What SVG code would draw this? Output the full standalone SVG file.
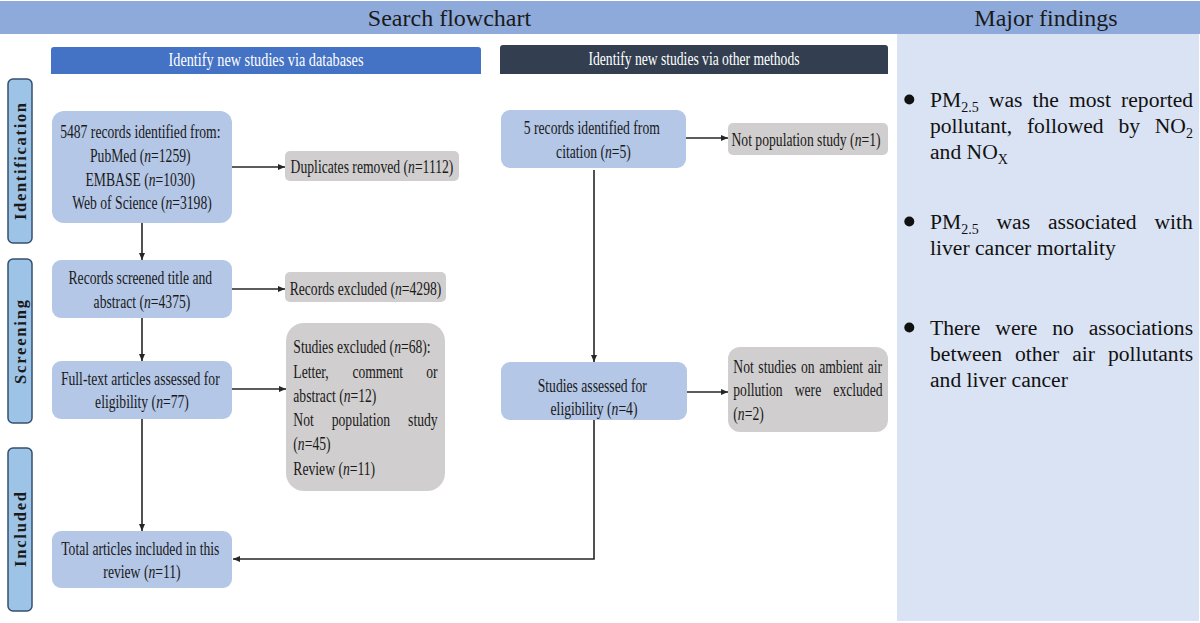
<svg xmlns="http://www.w3.org/2000/svg" width="1200" height="623" viewBox="0 0 1200 623">
<style>
.ft{font-family:"Liberation Serif","Times New Roman",serif;font-size:19.5px;fill:#1a1a1a}
.hd{font-family:"Liberation Serif","Times New Roman",serif;font-size:19.5px;fill:#ffffff}
.ttl{font-family:"Liberation Serif","Times New Roman",serif;font-size:24px;fill:#1a1a1a}
.side{font-family:"Liberation Serif","Times New Roman",serif;font-size:16.5px;font-weight:bold;fill:#1a1a1a}
.mf{font-family:"Liberation Serif","Times New Roman",serif;font-size:21.6px;fill:#111111}
.sb{font-size:14px}
.blue{fill:#b4c7e7}
.gray{fill:#d0cece}
.lab{fill:#9dc3e6;stroke:#34506e;stroke-width:1.5}
.con{stroke:#262626;stroke-width:1.6;fill:none}
</style>
<defs>
<marker id="ah" markerWidth="7" markerHeight="6" refX="7" refY="3" orient="auto" markerUnits="userSpaceOnUse">
<path d="M0,0 L7,3 L0,6 z" fill="#262626"/>
</marker>
</defs>
<rect x="0" y="0" width="1200" height="623" fill="#ffffff"/>
<g id="top-bar">
<rect x="0" y="1" width="1200" height="33" fill="#8eaadb"/>
<text class="ttl" x="449.5" y="26" text-anchor="middle">Search flowchart</text>
<text class="ttl" x="1046" y="26" text-anchor="middle">Major findings</text>
</g>
<g id="findings-panel">
<rect x="897" y="34" width="302" height="587" fill="#dae3f3"/>
<circle cx="909.3" cy="99.5" r="5" fill="#111"/>
<circle cx="909.3" cy="221.5" r="5" fill="#111"/>
<circle cx="909.3" cy="327.5" r="5" fill="#111"/>
<text class="mf" y="107"><tspan x="930">PM</tspan><tspan class="sb" dy="5">2.5</tspan><tspan x="988.8" dy="-5">was</tspan><tspan x="1032.5">the</tspan><tspan x="1069">most</tspan><tspan x="1121.1">reported</tspan></text>
<text class="mf" y="133"><tspan x="930">pollutant,</tspan><tspan x="1026.9">followed</tspan><tspan x="1118.4">by</tspan><tspan x="1154.7">NO</tspan><tspan class="sb" dy="5">2</tspan></text>
<text class="mf" y="159"><tspan x="930">and NO</tspan><tspan class="sb" dy="5">X</tspan></text>
<text class="mf" y="229"><tspan x="930">PM</tspan><tspan class="sb" dy="5">2.5</tspan><tspan x="996.5" dy="-5">was</tspan><tspan x="1047.9">associated</tspan><tspan x="1154.5">with</tspan></text>
<text class="mf" x="930" y="255">liver cancer mortality</text>
<text class="mf" y="335"><tspan x="930">There</tspan><tspan x="995.3">were</tspan><tspan x="1052.2">no</tspan><tspan x="1088.7">associations</tspan></text>
<text class="mf" y="361"><tspan x="930">between</tspan><tspan x="1014.9">other</tspan><tspan x="1072.2">air</tspan><tspan x="1107.9">pollutants</tspan></text>
<text class="mf" x="930" y="387">and liver cancer</text>
</g>
<g id="header-databases">
<path d="M51,74 V50 Q51,47 54,47 H478 Q481,47 481,50 V74 Z" fill="#4472c4"/>
<text class="hd" x="266" y="66" text-anchor="middle" textLength="195" lengthAdjust="spacingAndGlyphs">Identify new studies via databases</text>
</g>
<g id="header-other">
<path d="M500,74 V48 Q500,45 503,45 H885 Q888,45 888,48 V74 Z" fill="#333f50"/>
<text class="hd" x="694" y="65" text-anchor="middle" textLength="211" lengthAdjust="spacingAndGlyphs">Identify new studies via other methods</text>
</g>
<g id="label-identification">
<rect class="lab" x="8" y="79" width="24" height="164" rx="5"/>
<text class="side" transform="translate(25.5,161.5) rotate(-90)" x="0" y="0" text-anchor="middle" textLength="117" lengthAdjust="spacing">Identification</text>
</g>
<g id="label-screening">
<rect class="lab" x="8" y="259" width="24" height="164" rx="5"/>
<text class="side" transform="translate(25.5,342) rotate(-90)" x="0" y="0" text-anchor="middle" textLength="84" lengthAdjust="spacing">Screening</text>
</g>
<g id="label-included">
<rect class="lab" x="8" y="448" width="24" height="163" rx="5"/>
<text class="side" transform="translate(25.5,529.5) rotate(-90)" x="0" y="0" text-anchor="middle" textLength="75" lengthAdjust="spacing">Included</text>
</g>
<g id="connectors">
<line class="con" x1="232" y1="167" x2="285" y2="167" marker-end="url(#ah)"/>
<line class="con" x1="142" y1="223" x2="142" y2="260" marker-end="url(#ah)"/>
<line class="con" x1="232" y1="289" x2="285" y2="289" marker-end="url(#ah)"/>
<line class="con" x1="142" y1="318" x2="142" y2="361" marker-end="url(#ah)"/>
<line class="con" x1="232" y1="389" x2="286" y2="389" marker-end="url(#ah)"/>
<line class="con" x1="142" y1="419" x2="142" y2="531" marker-end="url(#ah)"/>
<line class="con" x1="686" y1="138" x2="728" y2="138" marker-end="url(#ah)"/>
<line class="con" x1="594" y1="170" x2="594" y2="362" marker-end="url(#ah)"/>
<line class="con" x1="687" y1="392" x2="728" y2="392" marker-end="url(#ah)"/>
<polyline class="con" points="594,420 594,559 233,559" marker-end="url(#ah)"/>
</g>
<g id="records-identified">
<rect class="blue" x="52" y="111" width="180" height="112" rx="12"/>
<text class="ft" transform="translate(142,0) scale(0.70,1)" text-anchor="middle">
<tspan x="0" y="138">5487 records identified from:</tspan>
<tspan x="0" y="162">PubMed (<tspan font-style="italic">n</tspan>=1259)</tspan>
<tspan x="0" y="186">EMBASE (<tspan font-style="italic">n</tspan>=1030)</tspan>
<tspan x="0" y="209.5">Web of Science (<tspan font-style="italic">n</tspan>=3198)</tspan>
</text>
</g>
<g id="duplicates-removed">
<rect class="gray" x="285" y="151" width="174" height="30" rx="5"/>
<text class="ft" transform="translate(372,0) scale(0.70,1)" text-anchor="middle" x="0" y="173">Duplicates removed (<tspan font-style="italic">n</tspan>=1112)</text>
</g>
<g id="records-screened">
<rect class="blue" x="52" y="260" width="180" height="58" rx="9"/>
<text class="ft" transform="translate(142,0) scale(0.70,1)" text-anchor="middle">
<tspan x="0" y="284">Records screened title and</tspan>
<tspan x="0" y="308">abstract (<tspan font-style="italic">n</tspan>=4375)</tspan>
</text>
</g>
<g id="records-excluded">
<rect class="gray" x="285" y="272" width="161" height="30" rx="5"/>
<text class="ft" transform="translate(365.5,0) scale(0.70,1)" text-anchor="middle" x="0" y="295">Records excluded (<tspan font-style="italic">n</tspan>=4298)</text>
</g>
<g id="full-text-assessed">
<rect class="blue" x="52" y="361" width="180" height="58" rx="9"/>
<text class="ft" transform="translate(142,0) scale(0.70,1)" text-anchor="middle">
<tspan x="0" y="385">Full-text articles assessed for</tspan>
<tspan x="0" y="408.5">eligibility (<tspan font-style="italic">n</tspan>=77)</tspan>
</text>
</g>
<g id="studies-excluded">
<rect class="gray" x="286" y="323" width="159" height="168" rx="18"/>
<text class="ft" transform="translate(293.3,0) scale(0.70,1)">
<tspan x="0" y="353">Studies excluded (<tspan font-style="italic">n</tspan>=68):</tspan>
<tspan x="0" y="378">Letter,</tspan><tspan x="84.4" y="378">comment</tspan><tspan x="190" y="378">or</tspan>
<tspan x="0" y="402">abstract (<tspan font-style="italic">n</tspan>=12)</tspan>
<tspan x="0" y="426.5">Not</tspan><tspan x="54.9" y="426.5">population</tspan><tspan x="164" y="426.5">study</tspan>
<tspan x="0" y="450.5">(<tspan font-style="italic">n</tspan>=45)</tspan>
<tspan x="0" y="475">Review (<tspan font-style="italic">n</tspan>=11)</tspan>
</text>
</g>
<g id="total-included">
<rect class="blue" x="52" y="531" width="180" height="57" rx="9"/>
<text class="ft" transform="translate(142,0) scale(0.70,1)" text-anchor="middle">
<tspan x="0" y="555">Total articles included in this</tspan>
<tspan x="0" y="578.5">review (<tspan font-style="italic">n</tspan>=11)</tspan>
</text>
</g>
<g id="citation-records">
<rect class="blue" x="501" y="110" width="185" height="58" rx="9"/>
<text class="ft" transform="translate(593.5,0) scale(0.70,1)" text-anchor="middle">
<tspan x="0" y="134">5 records identified from</tspan>
<tspan x="0" y="158">citation (<tspan font-style="italic">n</tspan>=5)</tspan>
</text>
</g>
<g id="not-population">
<rect class="gray" x="728" y="123" width="160" height="32" rx="5"/>
<text class="ft" transform="translate(806,0) scale(0.70,1)" text-anchor="middle" x="0" y="146.5">Not population study (<tspan font-style="italic">n</tspan>=1)</text>
</g>
<g id="studies-assessed">
<rect class="blue" x="501" y="362" width="186" height="58" rx="9"/>
<text class="ft" transform="translate(594,0) scale(0.70,1)" text-anchor="middle">
<tspan x="0" y="392">Studies assessed for</tspan>
<tspan x="0" y="415">eligibility (<tspan font-style="italic">n</tspan>=4)</tspan>
</text>
</g>
<g id="not-ambient">
<rect class="gray" x="728" y="347" width="160" height="85" rx="12"/>
<text class="ft" transform="translate(733.3,0) scale(0.70,1)">
<tspan x="0" y="373" word-spacing="1.7">Not studies on ambient air</tspan>
<tspan x="0" y="396.5">pollution</tspan><tspan x="87.7" y="396.5">were</tspan><tspan x="142.9" y="396.5">excluded</tspan>
<tspan x="0" y="420.5">(<tspan font-style="italic">n</tspan>=2)</tspan>
</text>
</g>
</svg>
